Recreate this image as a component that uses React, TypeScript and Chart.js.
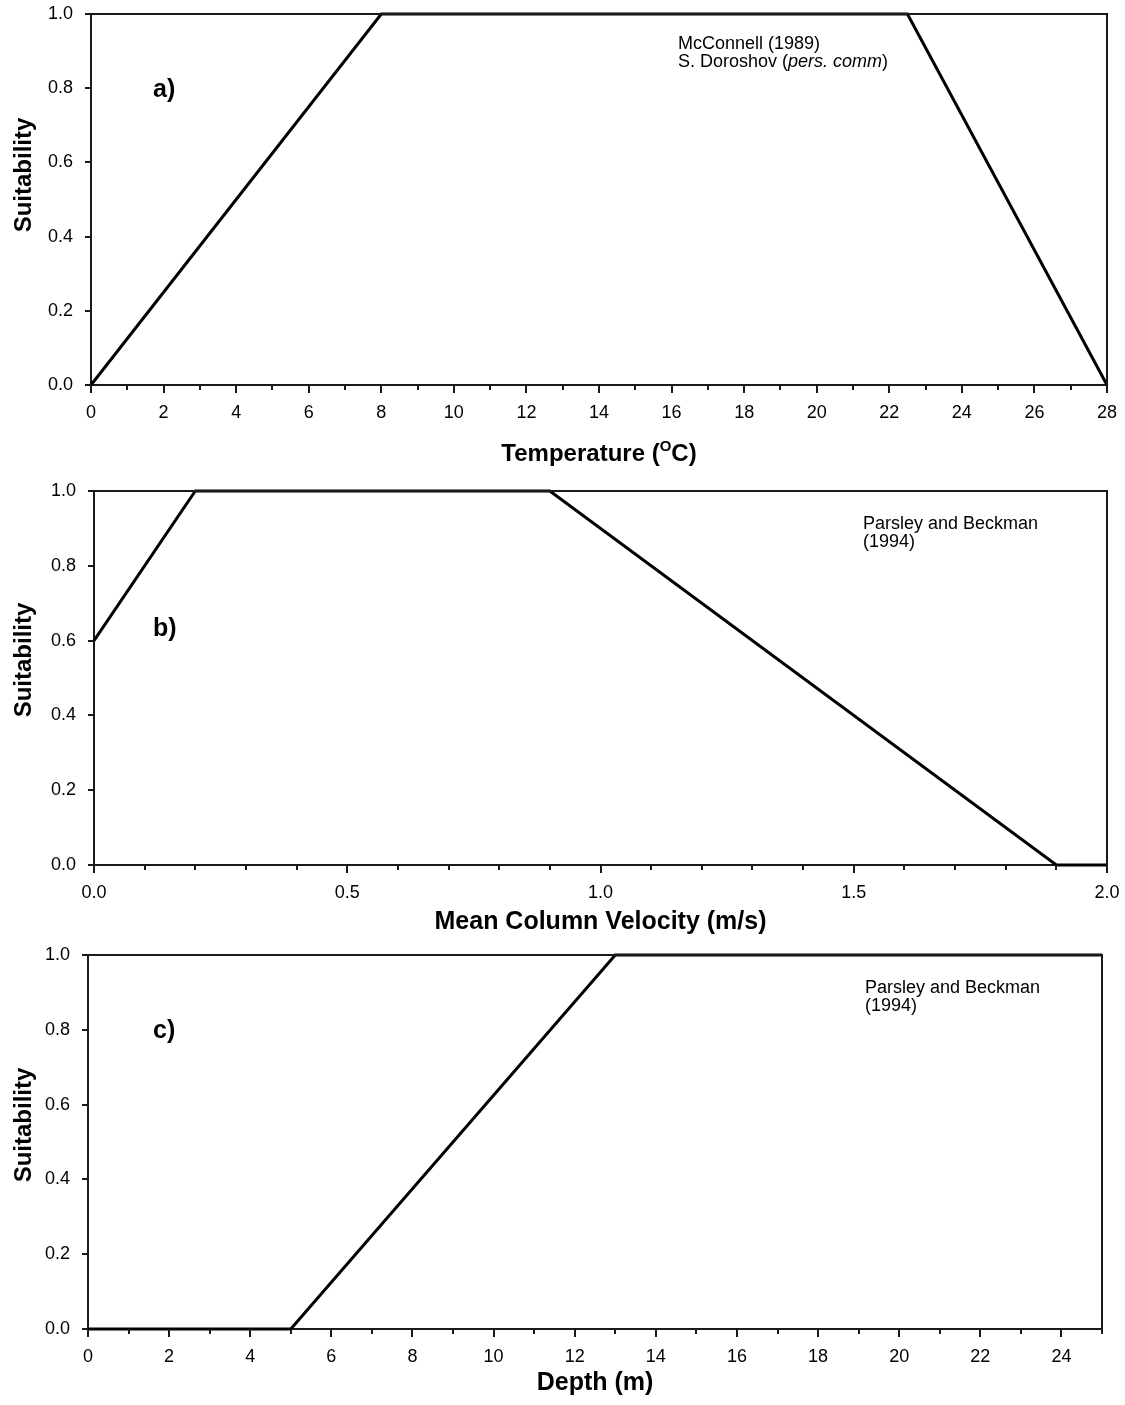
import { useEffect, useRef } from "react";
import { Chart, registerables } from "chart.js";

Chart.register(...registerables);

// a) temperature suitability curve
const temperatureC = [0, 8, 22.5, 28];
const temperatureSuitability = [0, 1, 1, 0];

// b) mean column velocity suitability curve
const velocityMs = [0, 0.2, 0.9, 1.9, 2.0];
const velocitySuitability = [0.6, 1, 1, 0, 0];

// c) depth suitability curve
const depthM = [0, 5, 13, 25];
const depthSuitability = [0, 0, 1, 1];

// axis tick positions and the ones that carry a label
const suitabilityTicks = [0, 0.2, 0.4, 0.6, 0.8, 1.0];
const temperatureTicks = [0, 1, 2, 3, 4, 5, 6, 7, 8, 9, 10, 11, 12, 13, 14, 15, 16, 17, 18, 19, 20, 21, 22, 23, 24, 25, 26, 27, 28];
const temperatureLabels = [0, 2, 4, 6, 8, 10, 12, 14, 16, 18, 20, 22, 24, 26, 28];
const velocityTicks = [0, 0.1, 0.2, 0.3, 0.4, 0.5, 0.6, 0.7, 0.8, 0.9, 1.0, 1.1, 1.2, 1.3, 1.4, 1.5, 1.6, 1.7, 1.8, 1.9, 2.0];
const velocityLabels = [0, 0.5, 1.0, 1.5, 2.0];
const depthTicks = [0, 1, 2, 3, 4, 5, 6, 7, 8, 9, 10, 11, 12, 13, 14, 15, 16, 17, 18, 19, 20, 21, 22, 23, 24, 25];
const depthLabels = [0, 2, 4, 6, 8, 10, 12, 14, 16, 18, 20, 22, 24];

const FONT = '"Liberation Sans", Arial, Helvetica, sans-serif';
const AXIS_COLOR = "#1a1a1a";

type Seg = { text: string; style?: "italic" | "sup" };

type Panel = {
  xs: number[];
  ys: number[];
  xMax: number;
  xTicks: number[];
  xLabels: number[];
  xDecimals: number;
  canvasTop: number;
  canvasHeight: number;
  padding: { left: number; top: number; right: number; bottom: number };
  letter: string;
  letterX: number;
  letterY: number;
  notes: Seg[][];
  noteX: number;
  noteY: number;
  xTitle: Seg[];
  xTitleY: number;
  xTitleSize: number;
  yTitleY: number;
};

const panels: Panel[] = [
  {
    xs: temperatureC,
    ys: temperatureSuitability,
    xMax: 28,
    xTicks: temperatureTicks,
    xLabels: temperatureLabels,
    xDecimals: 0,
    canvasTop: 0,
    canvasHeight: 470,
    padding: { left: 31, top: 14, right: 18, bottom: 45 },
    letter: "a)",
    letterX: 153,
    letterY: 97,
    notes: [
      [{ text: "McConnell (1989)" }],
      [{ text: "S. Doroshov (" }, { text: "pers. comm", style: "italic" }, { text: ")" }],
    ],
    noteX: 678,
    noteY: 49,
    xTitle: [{ text: "Temperature (" }, { text: "O", style: "sup" }, { text: "C)" }],
    xTitleY: 461,
    xTitleSize: 24,
    yTitleY: 175,
  },
  {
    xs: velocityMs,
    ys: velocitySuitability,
    xMax: 2,
    xTicks: velocityTicks,
    xLabels: velocityLabels,
    xDecimals: 1,
    canvasTop: 470,
    canvasHeight: 470,
    padding: { left: 34, top: 21, right: 18, bottom: 35 },
    letter: "b)",
    letterX: 153,
    letterY: 166,
    notes: [[{ text: "Parsley and Beckman" }], [{ text: "(1994)" }]],
    noteX: 863,
    noteY: 59,
    xTitle: [{ text: "Mean Column Velocity (m/s)" }],
    xTitleY: 459,
    xTitleSize: 25,
    yTitleY: 190,
  },
  {
    xs: depthM,
    ys: depthSuitability,
    xMax: 25,
    xTicks: depthTicks,
    xLabels: depthLabels,
    xDecimals: 0,
    canvasTop: 940,
    canvasHeight: 465,
    padding: { left: 28, top: 15, right: 23, bottom: 36 },
    letter: "c)",
    letterX: 153,
    letterY: 98,
    notes: [[{ text: "Parsley and Beckman" }], [{ text: "(1994)" }]],
    noteX: 865,
    noteY: 53,
    xTitle: [{ text: "Depth (m)" }],
    xTitleY: 450,
    xTitleSize: 25,
    yTitleY: 185,
  },
];

function segFont(seg: Seg, size: number, bold: boolean) {
  const weight = bold ? "bold " : "";
  if (seg.style === "italic") return `italic ${weight}${size}px ${FONT}`;
  if (seg.style === "sup") return `${weight}${Math.round(size * 0.62)}px ${FONT}`;
  return `${weight}${size}px ${FONT}`;
}

function drawSegments(
  ctx: CanvasRenderingContext2D,
  segs: Seg[],
  x: number,
  y: number,
  size: number,
  bold: boolean,
  align: "left" | "center"
) {
  ctx.textAlign = "left";
  ctx.textBaseline = "alphabetic";
  const widths = segs.map((s) => {
    ctx.font = segFont(s, size, bold);
    return ctx.measureText(s.text).width;
  });
  const total = widths.reduce((a, b) => a + b, 0);
  let cx = align === "center" ? x - total / 2 : x;
  segs.forEach((s, i) => {
    ctx.font = segFont(s, size, bold);
    const dy = s.style === "sup" ? -size * 0.4 : 0;
    ctx.fillText(s.text, cx, y + dy);
    cx += widths[i];
  });
}

// Draws the closing frame, tick marks, panel letter, source notes and axis titles
const panelDecor = {
  id: "panelDecor",
  afterDraw(chart: any, _args: any, opts: any) {
    const { ctx, chartArea: a } = chart;
    const xs = chart.scales.x;
    const ys = chart.scales.y;
    ctx.save();
    ctx.strokeStyle = AXIS_COLOR;
    ctx.lineWidth = 2;

    ctx.beginPath();
    ctx.moveTo(a.left - 1, a.top);
    ctx.lineTo(a.right, a.top);
    ctx.lineTo(a.right, a.bottom + 1);
    ctx.stroke();

    ctx.beginPath();
    for (const t of xs.ticks) {
      const px = Math.round(xs.getPixelForValue(t.value));
      const len = t.label ? 8 : 5;
      ctx.moveTo(px, a.bottom);
      ctx.lineTo(px, a.bottom + len);
    }
    for (const t of ys.ticks) {
      const py = Math.round(ys.getPixelForValue(t.value));
      ctx.moveTo(a.left - 6, py);
      ctx.lineTo(a.left, py);
    }
    ctx.stroke();

    ctx.fillStyle = "#000";
    ctx.font = `bold 25px ${FONT}`;
    ctx.textAlign = "left";
    ctx.textBaseline = "alphabetic";
    ctx.fillText(opts.letter, opts.letterX, opts.letterY);

    (opts.notes as Seg[][]).forEach((line, i) => {
      drawSegments(ctx, line, opts.noteX, opts.noteY + i * 18, 18, false, "left");
    });

    drawSegments(ctx, opts.xTitle, (a.left + a.right) / 2, opts.xTitleY, opts.xTitleSize, true, "center");

    ctx.translate(31, opts.yTitleY);
    ctx.rotate(-Math.PI / 2);
    ctx.font = `bold 24px ${FONT}`;
    ctx.textAlign = "center";
    ctx.textBaseline = "alphabetic";
    ctx.fillText("Suitability", 0, 0);
    ctx.restore();
  },
};

function SuitabilityPanel({ p }: { p: Panel }) {
  const ref = useRef<HTMLCanvasElement>(null);

  useEffect(() => {
    if (!ref.current) return;
    const zeroPad = (s: any) => {
      s.paddingLeft = 0;
      s.paddingRight = 0;
      s.paddingTop = 0;
      s.paddingBottom = 0;
    };
    const chart = new Chart(ref.current, {
      type: "scatter",
      data: {
        datasets: [
          {
            data: p.xs.map((x, i) => ({ x, y: p.ys[i] })),
            showLine: true,
            borderColor: "#000",
            borderWidth: 3,
            pointRadius: 0,
            tension: 0,
            clip: false as any,
          },
        ],
      },
      options: {
        animation: false,
        responsive: false,
        devicePixelRatio: 1,
        events: [],
        layout: { padding: p.padding },
        plugins: {
          legend: { display: false },
          tooltip: { enabled: false },
          panelDecor: {
            letter: p.letter,
            letterX: p.letterX,
            letterY: p.letterY,
            notes: p.notes,
            noteX: p.noteX,
            noteY: p.noteY,
            xTitle: p.xTitle,
            xTitleY: p.xTitleY,
            xTitleSize: p.xTitleSize,
            yTitleY: p.yTitleY,
          },
        } as any,
        scales: {
          x: {
            type: "linear",
            min: 0,
            max: p.xMax,
            afterBuildTicks: (s: any) => {
              s.ticks = p.xTicks.map((v) => ({ value: v }));
            },
            afterFit: (s: any) => {
              s.height = 40;
              zeroPad(s);
            },
            grid: { display: false, drawTicks: false },
            border: { display: true, color: AXIS_COLOR, width: 2 },
            ticks: {
              autoSkip: false,
              maxRotation: 0,
              minRotation: 0,
              padding: 17,
              color: "#000",
              font: { family: FONT, size: 18 },
              callback: (v: any) => (p.xLabels.includes(v) ? Number(v).toFixed(p.xDecimals) : ""),
            },
          },
          y: {
            type: "linear",
            min: 0,
            max: 1,
            afterBuildTicks: (s: any) => {
              s.ticks = suitabilityTicks.map((v) => ({ value: v }));
            },
            afterFit: (s: any) => {
              s.width = 60;
              zeroPad(s);
            },
            grid: { display: false, drawTicks: false },
            border: { display: true, color: AXIS_COLOR, width: 2 },
            ticks: {
              padding: 18,
              color: "#000",
              font: { family: FONT, size: 18 },
              callback: (v: any) => Number(v).toFixed(1),
            },
          },
        },
      },
      plugins: [panelDecor],
    });
    return () => chart.destroy();
  }, [p]);

  return (
    <canvas
      ref={ref}
      width={1125}
      height={p.canvasHeight}
      style={{ position: "absolute", left: 0, top: p.canvasTop, width: 1125, height: p.canvasHeight }}
    />
  );
}

export default function App() {
  return (
    <div style={{ position: "absolute", left: 0, top: 0, width: 1125, height: 1405, background: "#fff" }}>
      {panels.map((p) => (
        <SuitabilityPanel key={p.letter} p={p} />
      ))}
    </div>
  );
}
